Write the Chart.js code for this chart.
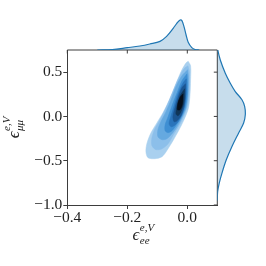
<!DOCTYPE html>
<html><head><meta charset="utf-8">
<script src="https://cdn.jsdelivr.net/npm/chart.js@4/dist/chart.umd.min.js"></script>
<style>
html,body{margin:0;padding:0;background:#fff;width:266px;height:266px;overflow:hidden}
canvas{position:absolute;left:0;top:0}
</style></head><body>
<canvas id="main" width="266" height="266"></canvas>
<canvas id="topm" width="266" height="266"></canvas>
<canvas id="rightm" width="266" height="266"></canvas>
<script>
// ---- data ----
const xTicks = [-0.4, -0.2, 0.0];
const yTicks = [-1.0, -0.5, 0.0, 0.5];

const level1X = [0.003, 0.011, 0.011, 0.009, 0.004, -0.008, -0.024, -0.044, -0.064, -0.084, -0.108, -0.131, -0.138, -0.134, -0.121, -0.101, -0.081, -0.058, -0.038, -0.018, -0.004];
const level1Y = [0.624, 0.572, 0.414, 0.245, 0.098, -0.015, -0.128, -0.252, -0.364, -0.454, -0.477, -0.466, -0.398, -0.297, -0.184, -0.071, 0.042, 0.200, 0.369, 0.526, 0.605];
const level2X = [0.002, 0.007, 0.006, 0.001, -0.011, -0.028, -0.048, -0.064, -0.084, -0.104, -0.118, -0.118, -0.108, -0.091, -0.071, -0.051, -0.031, -0.011];
const level2Y = [0.571, 0.504, 0.301, 0.132, 0.008, -0.105, -0.218, -0.308, -0.365, -0.375, -0.330, -0.240, -0.139, -0.037, 0.098, 0.256, 0.414, 0.538];
const level3X = [0.001, 0.004, 0.002, -0.004, -0.018, -0.034, -0.051, -0.068, -0.084, -0.098, -0.098, -0.088, -0.071, -0.054, -0.038, -0.018];
const level3Y = [0.526, 0.436, 0.245, 0.098, -0.015, -0.116, -0.195, -0.251, -0.263, -0.229, -0.150, -0.060, 0.053, 0.188, 0.335, 0.459];
const level4X = [-0.001, 0.001, -0.001, -0.008, -0.021, -0.038, -0.051, -0.064, -0.074, -0.074, -0.064, -0.051, -0.034, -0.018];
const level4Y = [0.481, 0.357, 0.211, 0.087, -0.015, -0.105, -0.161, -0.184, -0.161, -0.094, -0.003, 0.121, 0.267, 0.402];
const level5X = [-0.003, -0.003, -0.008, -0.018, -0.031, -0.044, -0.054, -0.061, -0.054, -0.044, -0.031, -0.014];
const level5Y = [0.425, 0.278, 0.132, 0.019, -0.060, -0.105, -0.116, -0.082, 0.008, 0.121, 0.256, 0.380];
const level6X = [-0.006, -0.006, -0.011, -0.021, -0.034, -0.044, -0.048, -0.041, -0.031, -0.018];
const level6Y = [0.369, 0.233, 0.109, 0.008, -0.048, -0.060, -0.003, 0.098, 0.211, 0.324];
const level7X = [-0.009, -0.011, -0.021, -0.031, -0.038, -0.034, -0.024];
const level7Y = [0.312, 0.166, 0.053, 0.008, 0.030, 0.121, 0.233];
const level8X = [-0.014, -0.016, -0.024, -0.033, -0.031, -0.023];
const level8Y = [0.256, 0.143, 0.076, 0.076, 0.154, 0.222];

const topMarginX = [-0.30, -0.25, -0.20, -0.158, -0.125, -0.091, -0.069, -0.047, -0.035, -0.024, -0.018, -0.011, -0.004, 0.003, 0.015, 0.026, 0.04];
const topMarginDensity = [0, 0.3, 1.4, 2.4, 3.6, 5.2, 8.2, 13.0, 16.0, 18.0, 17.6, 14.0, 9.0, 4.6, 1.4, 0.3, 0];
const rightMarginY = [0.80, 0.75, 0.637, 0.488, 0.375, 0.281, 0.188, 0.113, 0.019, -0.075, -0.187, -0.34, -0.49, -0.64, -0.75, -0.85, -0.95];
const rightMarginDensity = [0.1, 0.3, 1.8, 4.8, 7.8, 10.8, 14.8, 16.4, 16.8, 15.8, 12.8, 8.8, 5.4, 2.8, 1.2, 0.2, 0];

// ---- style / layout ----
const SERIF = "'Liberation Serif', 'DejaVu Serif', serif";
Chart.defaults.font.family = SERIF;
Chart.defaults.font.size = 15;
const levelColors = ['#a9d0ef', '#8cbfea', '#65a9e0', '#3f8fd3', '#2a74bb', '#1b5591', '#103659', '#060f1a'];
const AREA = {left: 67.3, right: 217.3, top: 50, bottom: 205};
const W = 266, H = 266;
const axisColor = '#3d3d3d';
const textColor = '#222';
const tickFont = {family: SERIF, size: 15.5};
const C0 = '#1f77b4';
const margFill = 'rgba(31,119,180,0.25)';

const fmt = v => (v < 0 ? '\u2212' : '') + Math.abs(v).toFixed(1);
const zip = (xs, ys) => xs.map((x, i) => ({x, y: ys[i]}));
const closed = pts => pts.concat([pts[0]]);

const levels = [
  [level1X, level1Y], [level2X, level2Y], [level3X, level3Y], [level4X, level4Y],
  [level5X, level5Y], [level6X, level6Y], [level7X, level7Y], [level8X, level8Y]
];

const mainDatasets = levels.map(([xs, ys], i) => ({
  data: closed(zip(xs, ys)),
  backgroundColor: levelColors[i],
  borderColor: levelColors[i],
  borderWidth: 0.5,
  fill: 'shape',
  tension: 0.3,
  pointRadius: 0,
  order: levels.length - i
}));

function drawMathLabel(ctx, cx, cy, rot, sub) {
  ctx.save();
  ctx.translate(cx, cy);
  if (rot) ctx.rotate(-Math.PI / 2);
  ctx.fillStyle = textColor;
  ctx.textBaseline = 'alphabetic';
  ctx.textAlign = 'left';
  const big = "italic 17px " + SERIF;
  const small = "italic 11px " + SERIF;
  ctx.font = big;
  const wE = ctx.measureText('\u03f5').width;
  ctx.font = small;
  const wSup = ctx.measureText('e,V').width;
  const wSub = ctx.measureText(sub).width;
  const total = wE + 0.5 + Math.max(wSup, wSub);
  const x0 = -total / 2;
  ctx.font = big;
  ctx.fillText('\u03f5', x0, 0);
  ctx.font = small;
  ctx.fillText('e,V', x0 + wE + 0.5, -9);
  ctx.fillText(sub, x0 + wE + 0.5, 3.5);
  ctx.restore();
}

const framePlugin = {
  id: 'frame',
  afterDraw(chart) {
    const {ctx, chartArea: a, scales} = chart;
    ctx.save();
    ctx.strokeStyle = axisColor;
    ctx.lineWidth = 1;
    ctx.beginPath();
    ctx.moveTo(a.left, a.top); ctx.lineTo(a.right, a.top);
    ctx.moveTo(a.right, a.top); ctx.lineTo(a.right, a.bottom);
    xTicks.forEach(v => { const px = scales.x.getPixelForValue(v); ctx.moveTo(px, a.top); ctx.lineTo(px, a.top + 3.5); });
    yTicks.forEach(v => { const py = scales.y.getPixelForValue(v); ctx.moveTo(a.right, py); ctx.lineTo(a.right - 3.5, py); });
    ctx.stroke();
    ctx.restore();
    drawMathLabel(ctx, (a.left + a.right) / 2 + 1, a.bottom + 35, false, 'ee');
    drawMathLabel(ctx, 19.3, (a.top + a.bottom) / 2, true, '\u03bc\u03bc');
  }
};

new Chart(document.getElementById('main'), {
  type: 'line',
  data: {datasets: mainDatasets},
  options: {
    responsive: false, animation: false, devicePixelRatio: 1,
    layout: {padding: {left: 0, top: AREA.top, right: W - AREA.right, bottom: 0}},
    plugins: {legend: {display: false}, tooltip: {enabled: false}},
    scales: {
      x: {
        type: 'linear', min: -0.4, max: 0.1,
        afterBuildTicks: s => { s.ticks = xTicks.map(v => ({value: v})); },
        afterFit: s => { s.height = H - AREA.bottom; },
        ticks: {callback: fmt, font: tickFont, color: textColor, padding: 0, maxRotation: 0, autoSkip: false},
        grid: {display: true, drawOnChartArea: false, drawTicks: true, tickLength: 4, color: axisColor},
        border: {display: true, color: axisColor, width: 1}
      },
      y: {
        type: 'linear', min: -1.0, max: 0.75,
        afterBuildTicks: s => { s.ticks = yTicks.map(v => ({value: v})); },
        afterFit: s => { s.width = AREA.left; },
        ticks: {callback: fmt, font: tickFont, color: textColor, padding: 1, autoSkip: false},
        grid: {display: true, drawOnChartArea: false, drawTicks: true, tickLength: 4, color: axisColor},
        border: {display: true, color: axisColor, width: 1}
      }
    }
  },
  plugins: [framePlugin]
});

new Chart(document.getElementById('topm'), {
  type: 'line',
  data: {datasets: [{
    data: zip(topMarginX, topMarginDensity),
    borderColor: C0, backgroundColor: margFill, borderWidth: 1.2,
    fill: 'origin', tension: 0.35, pointRadius: 0
  }]},
  options: {
    responsive: false, animation: false, devicePixelRatio: 1,
    layout: {padding: {left: AREA.left, right: W - AREA.right, top: 15, bottom: H - AREA.top}},
    plugins: {legend: {display: false}, tooltip: {enabled: false}},
    scales: {
      x: {type: 'linear', min: -0.4, max: 0.1, display: false},
      y: {type: 'linear', min: 0, max: 21, display: false}
    }
  }
});

new Chart(document.getElementById('rightm'), {
  type: 'line',
  data: {datasets: [{
    data: zip(rightMarginDensity, rightMarginY),
    borderColor: C0, backgroundColor: margFill, borderWidth: 1.2,
    fill: 'origin', tension: 0.35, pointRadius: 0
  }]},
  options: {
    indexAxis: 'y',
    responsive: false, animation: false, devicePixelRatio: 1,
    layout: {padding: {left: AREA.right, right: W - AREA.right - 35, top: AREA.top, bottom: H - AREA.bottom}},
    plugins: {legend: {display: false}, tooltip: {enabled: false}},
    scales: {
      x: {type: 'linear', min: 0, max: 21, display: false},
      y: {type: 'linear', min: -1.0, max: 0.75, display: false}
    }
  }
});
</script>
</body></html>
